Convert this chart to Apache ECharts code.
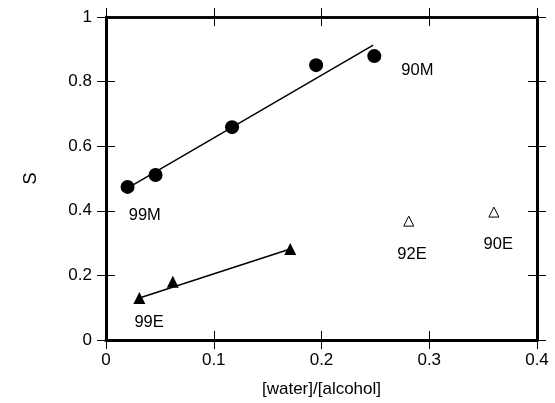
<!DOCTYPE html>
<html>
<head>
<meta charset="utf-8">
<script src="https://cdn.jsdelivr.net/npm/echarts@6/dist/echarts.min.js"></script>
<style>
  html, body { margin: 0; padding: 0; background: #fff; }
  #chart { width: 555px; height: 403px; }
</style>
</head>
<body>
<div id="chart"></div>
<script>
// methanol series (circles)
const methanolX = [0.020, 0.046, 0.117, 0.195, 0.249];
const methanolS = [0.474, 0.511, 0.659, 0.851, 0.879];
const methanolFit = [[0.020, 0.470], [0.248, 0.913]];

// ethanol 99E (filled triangles)
const ethanolX = [0.031, 0.062, 0.171];
const ethanolS = [0.130, 0.180, 0.282];
const ethanolFit = [[0.031, 0.130], [0.171, 0.282]];

// ethanol 92E / 90E (open triangles)
const openX = [0.281, 0.360];
const openS = [0.368, 0.396];

// text labels
const labelText = ['99M', '90M', '92E', '90E', '99E'];
const labelX = [0.036, 0.289, 0.284, 0.364, 0.040];
const labelY = [0.387, 0.836, 0.266, 0.297, 0.053];

const font = 'Liberation Sans, Arial, Helvetica, sans-serif';
const zip = (xs, ys) => xs.map((x, i) => [x, ys[i]]);

function xAx(pos, inside, labels, extra) {
  return Object.assign({
    type: 'value', position: pos, min: 0, max: 0.4, interval: 0.1,
    axisLine: { show: true, onZero: false, lineStyle: { color: '#000', width: pos === 'bottom' ? 3 : 2.5 } },
    axisTick: { show: true, inside: inside, length: 9, lineStyle: { color: '#000', width: 1 } },
    axisLabel: { show: labels, color: '#000', fontSize: 17, fontFamily: font, margin: 12,
      formatter: v => String(+v.toFixed(1)) },
    splitLine: { show: false }
  }, extra || {});
}
function yAx(pos, inside, labels, extra) {
  return Object.assign({
    type: 'value', position: pos, min: 0, max: 1, interval: 0.2,
    axisLine: { show: true, onZero: false, lineStyle: { color: '#000', width: 3 } },
    axisTick: { show: true, inside: inside, length: 9, lineStyle: { color: '#000', width: 1 } },
    axisLabel: { show: labels, color: '#000', fontSize: 17, fontFamily: font, margin: 14,
      formatter: v => String(+v.toFixed(1)) },
    splitLine: { show: false }
  }, extra || {});
}

let myChart = echarts.init(document.getElementById('chart'));
myChart.setOption({
  backgroundColor: '#fff',
  animation: false,
  grid: { left: 106, right: 18, top: 17, bottom: 63 },
  xAxis: [
    xAx('bottom', false, true, {
      name: '[water]/[alcohol]', nameLocation: 'middle', nameGap: 41,
      nameTextStyle: { color: '#000', fontSize: 17, fontFamily: font }
    }),
    xAx('bottom', true, false),
    xAx('top', false, false),
    xAx('top', true, false)
  ],
  yAxis: [
    yAx('left', false, true, {
      name: 'S', nameLocation: 'middle', nameGap: 66, nameRotate: 90,
      nameTextStyle: { color: '#000', fontSize: 18, fontFamily: font }
    }),
    yAx('left', true, false),
    yAx('right', false, false),
    yAx('right', true, false)
  ],
  series: [
    {
      type: 'line', data: methanolFit, symbol: 'none',
      lineStyle: { color: '#000', width: 1.5 }
    },
    {
      type: 'line', data: ethanolFit, symbol: 'none',
      lineStyle: { color: '#000', width: 1.5 }
    },
    {
      type: 'scatter', data: zip(methanolX, methanolS), symbol: 'circle', symbolSize: 14,
      itemStyle: { color: '#000', opacity: 1 }
    },
    {
      type: 'scatter', data: zip(ethanolX, ethanolS), symbol: 'triangle', symbolSize: 12,
      itemStyle: { color: '#000', opacity: 1 }
    },
    {
      type: 'scatter', data: zip(openX, openS), symbol: 'triangle', symbolSize: 10,
      itemStyle: { color: '#fff', borderColor: '#000', borderWidth: 1, opacity: 1 }
    },
    {
      type: 'scatter', symbolSize: 0, silent: true,
      itemStyle: { opacity: 1 },
      data: labelText.map((t, i) => ({ value: [labelX[i], labelY[i]], name: t })),
      label: {
        show: true, position: 'inside', formatter: p => p.name,
        color: '#000', opacity: 1, fontSize: 16.5, fontFamily: font
      }
    }
  ]
});
</script>
</body>
</html>
